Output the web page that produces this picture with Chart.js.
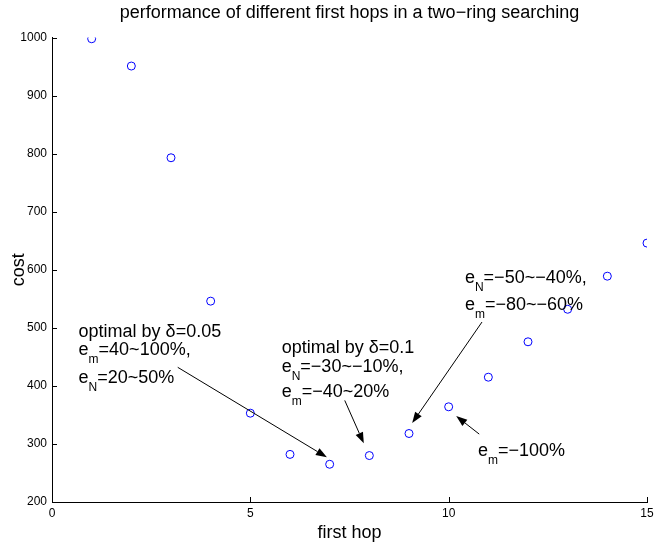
<!DOCTYPE html>
<html>
<head>
<meta charset="utf-8">
<script src="https://cdn.jsdelivr.net/npm/chart.js@4.4.1/dist/chart.umd.min.js"></script>
<style>
	html, body { margin: 0; padding: 0; background: #fff; }
	#wrap { width: 656px; height: 548px; }
</style>
</head>
<body>
<div id="wrap"><canvas id="hop-chart"></canvas></div>
<script>
// values
var firstHops = [1, 2, 3, 4, 5, 6, 7, 8, 9, 10, 11, 12, 13, 14, 15];
var costs = [998, 951, 793, 546, 353, 282, 265, 280, 318, 364, 415, 476, 532, 589, 646];
var xTicks = [0, 5, 10, 15];
var yTicks = [200, 300, 400, 500, 600, 700, 800, 900, 1000];

var FONT = '"Liberation Sans", Arial, Helvetica, sans-serif';

// text notes, anchored in data units; each line is a list of [text, isSubscript]
var notes = [
	{ x: 0.67, y: 484, gaps: [0, 18, 46], lines: [
		[['optimal by \u03b4=0.05', 0]],
		[['e', 0], ['m', 1], ['=40~100%,', 0]],
		[['e', 0], ['N', 1], ['=20~50%', 0]]
	]},
	{ x: 5.79, y: 456, gaps: [0, 19, 44], lines: [
		[['optimal by \u03b4=0.1', 0]],
		[['e', 0], ['N', 1], ['=\u221230~\u221210%,', 0]],
		[['e', 0], ['m', 1], ['=\u221240~20%', 0]]
	]},
	{ x: 10.41, y: 577, gaps: [0, 27], lines: [
		[['e', 0], ['N', 1], ['=\u221250~\u221240%,', 0]],
		[['e', 0], ['m', 1], ['=\u221280~\u221260%', 0]]
	]},
	{ x: 10.74, y: 280, gaps: [0], lines: [
		[['e', 0], ['m', 1], ['=\u2212100%', 0]]
	]}
];

// arrows: tail -> head, data units
var arrows = [
	{ from: [3.17, 432], to: [6.93, 277] },
	{ from: [7.38, 375], to: [7.86, 301] },
	{ from: [10.84, 510], to: [9.08, 336] },
	{ from: [10.77, 317], to: [10.19, 348] }
];

var innerTicks = {
	id: 'innerTicks',
	afterDraw: function(chart) {
		var ctx = chart.ctx, xs = chart.scales.x, ys = chart.scales.y;
		var a = chart.chartArea;
		ctx.save();
		ctx.strokeStyle = '#000';
		ctx.lineWidth = 1;
		ctx.beginPath();
		yTicks.forEach(function(v) {
			var py = Math.round(ys.getPixelForValue(v)) + 0.5;
			ctx.moveTo(a.left, py);
			ctx.lineTo(a.left + 5, py);
		});
		xTicks.forEach(function(v) {
			var px = Math.round(xs.getPixelForValue(v)) + 0.5;
			ctx.moveTo(px, a.bottom);
			ctx.lineTo(px, a.bottom - 5);
		});
		ctx.stroke();
		ctx.restore();
	}
};

var notesPlugin = {
	id: 'notes',
	afterDatasetsDraw: function(chart) {
		var ctx = chart.ctx, xs = chart.scales.x, ys = chart.scales.y;
		ctx.save();
		ctx.fillStyle = '#000';
		ctx.strokeStyle = '#000';
		ctx.textBaseline = 'alphabetic';
		ctx.textAlign = 'left';
		notes.forEach(function(n) {
			var x0 = xs.getPixelForValue(n.x);
			var y0 = ys.getPixelForValue(n.y);
			n.lines.forEach(function(line, i) {
				var x = x0, y = y0 + n.gaps[i];
				line.forEach(function(seg) {
					ctx.font = (seg[1] ? '12px ' : '18px ') + FONT;
					ctx.fillText(seg[0], x, seg[1] ? y + 8 : y);
					x += ctx.measureText(seg[0]).width;
				});
			});
		});
		ctx.lineWidth = 1;
		arrows.forEach(function(ar) {
			var x1 = xs.getPixelForValue(ar.from[0]), y1 = ys.getPixelForValue(ar.from[1]);
			var x2 = xs.getPixelForValue(ar.to[0]), y2 = ys.getPixelForValue(ar.to[1]);
			var ang = Math.atan2(y2 - y1, x2 - x1);
			var len = 11, hw = 4;
			var bx = x2 - len * Math.cos(ang), by = y2 - len * Math.sin(ang);
			ctx.beginPath();
			ctx.moveTo(x1, y1);
			ctx.lineTo(bx, by);
			ctx.stroke();
			ctx.beginPath();
			ctx.moveTo(x2, y2);
			ctx.lineTo(bx + hw * Math.sin(ang), by - hw * Math.cos(ang));
			ctx.lineTo(bx - hw * Math.sin(ang), by + hw * Math.cos(ang));
			ctx.closePath();
			ctx.fill();
		});
		ctx.restore();
	}
};

var ctx = document.getElementById('hop-chart').getContext('2d');
var myChart = new Chart(ctx, {
	type: 'scatter',
	data: {
		datasets: [{
			label: 'cost',
			data: firstHops.map(function(h, i) { return { x: h, y: costs[i] }; }),
			pointStyle: 'circle',
			pointRadius: 4,
			pointBorderWidth: 1,
			borderColor: '#0000ff',
			backgroundColor: 'rgba(0,0,0,0)'
		}]
	},
	options: {
		responsive: true,
		maintainAspectRatio: false,
		animation: false,
		layout: { padding: { left: 0, right: 9, top: 0, bottom: 0 } },
		plugins: {
			legend: { display: false },
			tooltip: { enabled: false },
			title: {
				display: true,
				fullSize: false,
				text: 'performance of different first hops in a two\u2212ring searching',
				color: '#000',
				font: { family: FONT, size: 18, weight: 'normal', lineHeight: 1.2 },
				padding: { top: 2, bottom: 14 }
			}
		},
		scales: {
			x: {
				type: 'linear',
				min: 0,
				max: 15,
				afterFit: function(s) { s.height = 46; s.paddingLeft = 0; s.paddingRight = 0; },
				ticks: {
					stepSize: 5,
					color: '#000',
					padding: 4,
					maxRotation: 0,
					font: { family: FONT, size: 12 },
					callback: function(v) { return String(v); }
				},
				grid: { drawOnChartArea: false, drawTicks: false },
				border: { display: true, color: '#000', width: 1 },
				title: {
					display: true,
					text: 'first hop',
					color: '#000',
					font: { family: FONT, size: 18 },
					padding: { top: 0, bottom: 4 }
				}
			},
			y: {
				type: 'linear',
				min: 200,
				max: 1000,
				afterFit: function(s) { s.width = 52; },
				ticks: {
					stepSize: 100,
					color: '#000',
					padding: 5,
					font: { family: FONT, size: 12 },
					callback: function(v) { return String(v); }
				},
				grid: { drawOnChartArea: false, drawTicks: false },
				border: { display: true, color: '#000', width: 1 },
				title: {
					display: true,
					text: 'cost',
					color: '#000',
					font: { family: FONT, size: 18 },
					padding: { top: 8, bottom: 0 }
				}
			}
		}
	},
	plugins: [innerTicks, notesPlugin]
});
</script>
</body>
</html>
